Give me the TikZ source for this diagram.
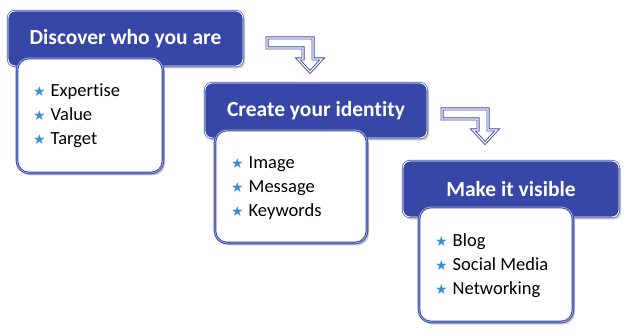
\documentclass[tikz,border=0pt]{standalone}
\usepackage{fontspec}
\setmainfont{Carlito}[Ligatures=NoCommon]
\newfontfamily\symfont{DejaVu Sans}
\usetikzlibrary{shadows}
\definecolor{headblue}{HTML}{3747A8}
\definecolor{edgeblue}{HTML}{3A4AA8}
\definecolor{paleblue}{HTML}{9AA6DC}
\definecolor{starblue}{HTML}{3A8FD8}
\tikzset{
  header/.style={rounded corners=7pt, fill=headblue, draw=edgeblue, double=white,
    double distance=0.9pt, line width=0.6pt, text=white,
    font=\fontsize{21.5}{24}\selectfont\bfseries, inner sep=0pt,
    drop shadow={shadow xshift=2pt, shadow yshift=-2.5pt, opacity=0.35, fill=black!60}},
  listbox/.style={rounded corners=12pt, fill=white, draw=edgeblue, double=paleblue,
    double distance=0.8pt, line width=0.9pt, inner sep=0pt,
    drop shadow={shadow xshift=2pt, shadow yshift=-2.5pt, opacity=0.35, fill=black!60}},
  items/.style={anchor=west, align=left, inner sep=0pt,
    font=\fontsize{18.5}{24}\selectfont},
  bendarrow/.style={draw=edgeblue, double=white, double distance=1.2pt,
    line width=0.9pt, fill=white, line join=miter}
}
\newcommand{\itm}[1]{\makebox[17.5pt][l]{\textcolor{starblue}{\symfont\fontsize{14}{14}\selectfont ★}}#1}
\begin{document}
\begin{tikzpicture}[x=1pt,y=-1pt]
\useasboundingbox (0,0) rectangle (630,334);
% step 1
\node[header, minimum width=235pt, minimum height=55pt] (h1) at (125.5,38.5) {Discover who you are};
\node[listbox, minimum width=146pt, minimum height=115pt] (b1) at (90,115.5) {};
\node[items] (l1) at (33,116) {\itm{Expertise}\\\itm{Value}\\\itm{Target}};
% step 2
\node[header, minimum width=222pt, minimum height=55pt] (h2) at (316,110.5) {Create your identity};
\node[listbox, minimum width=152pt, minimum height=113pt] (b2) at (291,186.5) {};
\node[items] (l2) at (231,188) {\itm{Image}\\\itm{Message}\\\itm{Keywords}};
% step 3
\node[header, minimum width=216pt, minimum height=56pt] (h3) at (511,189) {Make it visible};
\node[listbox, minimum width=154pt, minimum height=115pt] (b3) at (496,264.5) {};
\node[items] (l3) at (435,265.5) {\itm{Blog}\\\itm{Social Media}\\\itm{Networking}};
% arrows
\foreach \dx/\dy/\nm in {0/0/a1, 175/71/a2}{
  \begin{scope}[shift={(\dx,\dy)}]
    \coordinate (\nm) at (267,38);
    \draw[bendarrow] (267,38) -- (313,38) -- (313,59) -- (322,59) -- (310,72)
      -- (298,59) -- (303,59) -- (303,48) -- (267,48) -- cycle;
  \end{scope}
}
\end{tikzpicture}
\end{document}
